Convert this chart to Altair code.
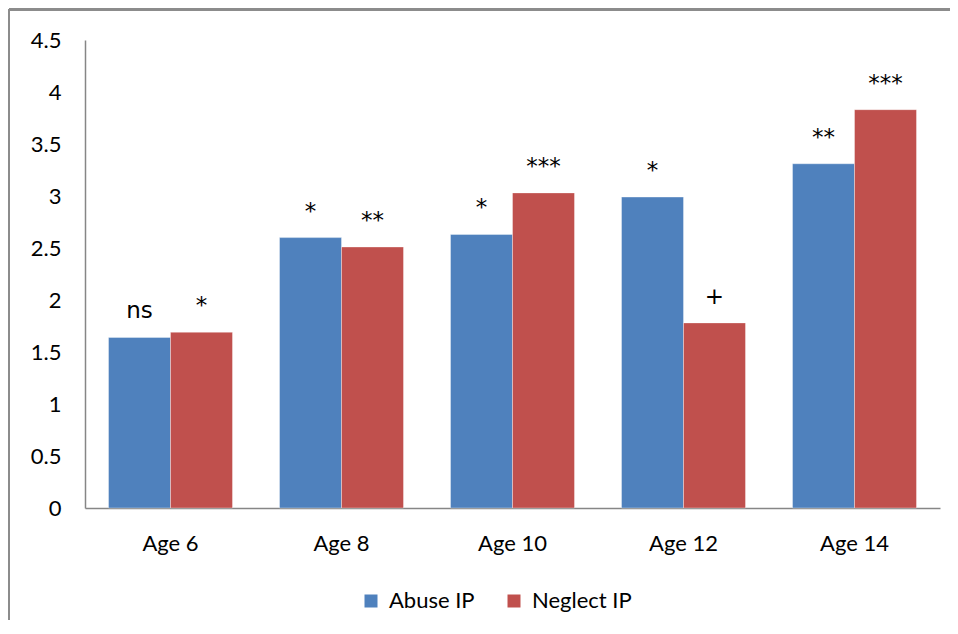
import altair as alt
import pandas as pd

ages = ["Age 6", "Age 8", "Age 10", "Age 12", "Age 14"]
series = ["Abuse IP", "Neglect IP"]
abuse = [1.64, 2.60, 2.63, 2.99, 3.31]
neglect = [1.69, 2.51, 3.03, 1.78, 3.83]
abuse_sig = ["ns", "*", "*", "*", "**"]
neglect_sig = ["*", "**", "***", "+", "***"]
colors = ["#4F81BD", "#C0504D"]
y_ticks = [0, 0.5, 1, 1.5, 2, 2.5, 3, 3.5, 4, 4.5]

rows = []
for a, v, s in zip(ages, abuse, abuse_sig):
    rows.append({"age": a, "series": series[0], "value": v, "sig": s})
for a, v, s in zip(ages, neglect, neglect_sig):
    rows.append({"age": a, "series": series[1], "value": v, "sig": s})
df = pd.DataFrame(rows)

FONT = "Lato"

x = alt.X("age:N", sort=ages, title=None,
          scale=alt.Scale(paddingInner=0.275, paddingOuter=0.1375),
          axis=alt.Axis(labelAngle=0, ticks=False, labelPadding=25, labelFontSize=22,
                        labelFont=FONT, labelColor="#000000", domainColor="#868686",
                        domainWidth=1.5, grid=False))
y = alt.Y("value:Q", title=None,
          scale=alt.Scale(domain=[0, 4.5], nice=False),
          axis=alt.Axis(values=y_ticks, ticks=False, labelPadding=24, labelFontSize=22,
                        labelFont=FONT, labelColor="#000000", domainColor="#868686",
                        domainWidth=1.5, grid=False, format="~g"))

bars = alt.Chart(df).mark_bar(stroke="#ffffff", strokeWidth=0.6, strokeOpacity=0.6).encode(
    x=x,
    xOffset=alt.XOffset("series:N", sort=series),
    y=y,
    color=alt.Color("series:N", sort=series,
                    scale=alt.Scale(domain=series, range=colors),
                    legend=alt.Legend(title=None, orient="none", legendX=275, legendY=550,
                                      direction="horizontal", symbolType="square",
                                      symbolSize=169, symbolStrokeWidth=0,
                                      labelFontSize=22, labelFont=FONT, labelColor="#000000",
                                      labelOffset=7, columnPadding=28)),
)

labels = alt.Chart(df).mark_text(baseline="alphabetic", dy=-19, fontSize=23,
                                 font="DejaVu Sans", color="#000000").encode(
    x=alt.X("age:N", sort=ages),
    xOffset=alt.XOffset("series:N", sort=series),
    y=alt.Y("value:Q"),
    text="sig:N",
)

frame_top = alt.Chart(df).mark_rule(color="#8c8c8c", strokeWidth=2).encode(
    x=alt.value(-76), x2=alt.value(900), y=alt.value(-30.5))
frame_left = alt.Chart(df).mark_rule(color="#8c8c8c", strokeWidth=2).encode(
    x=alt.value(-76), y=alt.value(-31), y2=alt.value(700))

chart = alt.layer(frame_top, frame_left, bars, labels).properties(
    width=855, height=468,
    background="#ffffff",
    padding={"left": 77, "top": 32, "right": 10, "bottom": 112},
    autosize=alt.AutoSizeParams(type="none"),
).configure_view(strokeWidth=0, stroke="transparent")

chart.save("out.html", embed_options={"renderer": "svg", "actions": False})
